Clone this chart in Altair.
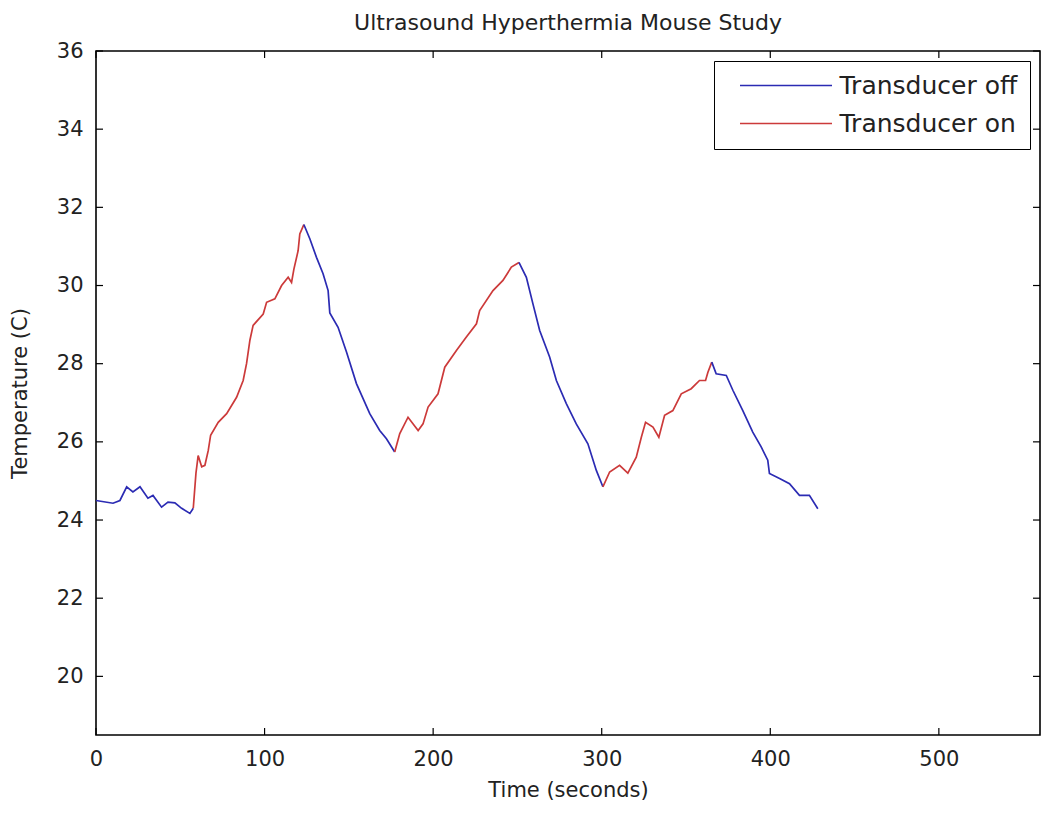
import altair as alt
import pandas as pd

# Measured series (time in seconds, temperature in C)
time_s = [0, 10.1, 14.2, 18.2, 21.9, 26.1, 30.8, 33.8, 38.9, 42.7, 46.8, 50.8, 55.7, 57.7,
          59.3, 60.6, 62.7, 64.6, 66.6, 68.0, 72.5, 77.5, 83.4, 87.3, 89.3, 91.3, 93.2, 99.2,
          101.2, 106.1, 110.1, 114.0, 116.0, 117.4, 119.9, 120.9, 123.3,
          126.9, 130.8, 134.7, 137.7, 138.7, 143.6, 148.6, 154.5, 162.4, 168.3, 172.3, 177.2,
          180.2, 185.1, 191.1, 194.0, 197.0, 202.9, 206.9, 213.8, 219.7, 225.7, 227.6, 235.5,
          241.4, 246.4, 250.9,
          255.3, 259.2, 263.2, 269.1, 273.1, 279.0, 284.9, 291.8, 296.8, 300.7,
          304.7, 310.6, 315.5, 320.5, 323.5, 326.0, 330.4, 333.9, 337.3, 342.2, 347.2, 353.1,
          358.0, 361.6, 363.0, 365.3,
          367.9, 373.9, 377.8, 383.7, 389.6, 394.6, 398.5, 399.5, 405.5, 411.4, 417.3, 423.2, 428.2]
temp_c = [24.5, 24.43, 24.5, 24.85, 24.72, 24.85, 24.56, 24.63, 24.33, 24.46, 24.44, 24.3, 24.17, 24.3,
          25.2, 25.65, 25.36, 25.4, 25.78, 26.17, 26.5, 26.72, 27.14, 27.57, 28.0, 28.6, 28.98, 29.27,
          29.57, 29.66, 30.0, 30.21, 30.08, 30.42, 30.89, 31.32, 31.56,
          31.19, 30.72, 30.3, 29.87, 29.3, 28.93, 28.3, 27.49, 26.72, 26.29, 26.08, 25.74,
          26.21, 26.63, 26.29, 26.46, 26.89, 27.23, 27.91, 28.34, 28.68, 29.02, 29.36, 29.87,
          30.13, 30.47, 30.59,
          30.21, 29.53, 28.85, 28.17, 27.57, 26.98, 26.46, 25.95, 25.27, 24.85,
          25.23, 25.4, 25.2, 25.61, 26.12, 26.5, 26.38, 26.12, 26.68, 26.8, 27.23, 27.36,
          27.57, 27.57, 27.78, 28.04,
          27.74, 27.7, 27.32, 26.8, 26.25, 25.87, 25.53, 25.19, 25.06, 24.93, 24.63, 24.63, 24.29]
switch_times = [57.7, 123.3, 177.2, 250.9, 300.7, 365.3]
state_names = ["Transducer off", "Transducer on"]
state_colors = ["#2b2bb3", "#cc3a3a"]
x_ticks = [0, 100, 200, 300, 400, 500]
y_ticks = [20, 22, 24, 26, 28, 30, 32, 34, 36]

bounds = [time_s[0]] + switch_times + [time_s[-1]]
rows = []
for k in range(len(bounds) - 1):
    lo, hi = bounds[k], bounds[k + 1]
    for t, y in zip(time_s, temp_c):
        if lo <= t <= hi:
            rows.append({"t": t, "temp": y, "seg": k, "state": state_names[k % 2]})
df = pd.DataFrame(rows)

W, H = 944, 684
FONT = "DejaVu Sans"
xscale = alt.Scale(domain=[0, 560], nice=False, zero=False)
yscale = alt.Scale(domain=[18.5, 36], nice=False, zero=False)
xaxis = alt.Axis(values=x_ticks, tickSize=0, labelPadding=13, titlePadding=10,
                 grid=False, domain=False, labelFlush=False)
yaxis = alt.Axis(values=y_ticks, tickSize=0, labelPadding=13, titlePadding=26,
                 grid=False, domain=False, labelFlush=False)
XT = "Time (seconds)"
YT = "Temperature (C)"

line = alt.Chart(df).mark_line(strokeWidth=1.7).encode(
    x=alt.X("t:Q", scale=xscale, title=XT, axis=xaxis),
    y=alt.Y("temp:Q", scale=yscale, title=YT, axis=yaxis),
    color=alt.Color("state:N", scale=alt.Scale(domain=state_names, range=state_colors),
                    legend=alt.Legend(title=None, orient="top-right", offset=10,
                                      symbolType="M-4,0H4", symbolSize=529,
                                      symbolStrokeWidth=1.7, symbolOffset=47.5,
                                      labelOffset=41, padding=12, rowPadding=12,
                                      labelFont=FONT, labelFontSize=25, labelColor="#222",
                                      labelLimit=400, strokeColor="black",
                                      fillColor="white", cornerRadius=0)),
    detail="seg:N",
    order="t:Q",
)

xt = pd.DataFrame({"v": x_ticks})
yt = pd.DataFrame({"v": y_ticks})
tick_style = dict(color="black", strokeWidth=1.2)
xbot = alt.Chart(xt).mark_rule(**tick_style).encode(
    x=alt.X("v:Q", scale=xscale, title=XT, axis=xaxis), y=alt.value(H), y2=alt.value(H - 7))
xtop = alt.Chart(xt).mark_rule(**tick_style).encode(
    x=alt.X("v:Q", scale=xscale, title=XT, axis=xaxis), y=alt.value(0), y2=alt.value(7))
yleft = alt.Chart(yt).mark_rule(**tick_style).encode(
    y=alt.Y("v:Q", scale=yscale, title=YT, axis=yaxis), x=alt.value(0), x2=alt.value(7))
yright = alt.Chart(yt).mark_rule(**tick_style).encode(
    y=alt.Y("v:Q", scale=yscale, title=YT, axis=yaxis), x=alt.value(W), x2=alt.value(W - 7))

chart = alt.layer(line, xbot, xtop, yleft, yright).properties(
    width=W, height=H,
    title=alt.TitleParams("Ultrasound Hyperthermia Mouse Study", font=FONT, fontSize=22,
                          fontWeight="normal", color="#222", offset=5, anchor="middle"),
    autosize=alt.AutoSizeParams(type="none"),
    padding={"left": 88, "top": 43, "right": 1, "bottom": 72},
).configure_view(stroke="black", strokeWidth=1.6).configure_axis(
    labelFont=FONT, labelFontSize=21, labelColor="#222", titleFont=FONT,
    titleFontSize=21, titleFontWeight="normal", titleColor="#222"
)

chart.save("out.html", embed_options={"renderer": "svg", "actions": False})
